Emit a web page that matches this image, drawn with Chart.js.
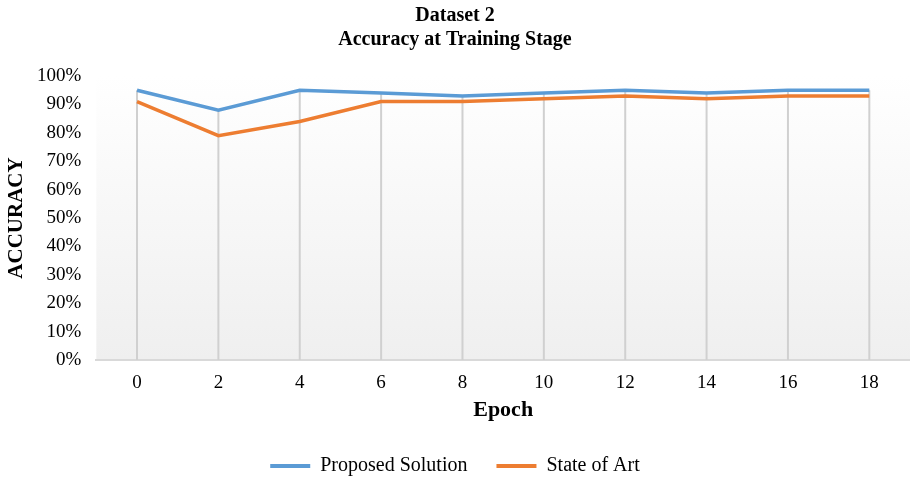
<!DOCTYPE html>
<html>
<head>
<meta charset="utf-8">
<script src="https://cdn.jsdelivr.net/npm/chart.js@4/dist/chart.umd.min.js"></script>
<style>
  body { margin: 0; background: #fff; }
  #wrap { width: 910px; height: 478px; }
</style>
</head>
<body>
<div id="wrap"><canvas id="accChart" width="910" height="478"></canvas></div>
<script>
const epochs = ['0', '2', '4', '6', '8', '10', '12', '14', '16', '18']
const proposed = [0.95, 0.88, 0.95, 0.94, 0.93, 0.94, 0.95, 0.94, 0.95, 0.95]
const stateOfArt = [0.91, 0.79, 0.84, 0.91, 0.91, 0.92, 0.93, 0.92, 0.93, 0.93]

const serif = "'Liberation Serif', 'Times New Roman', serif"

// soft white-to-grey fill behind the plot
const plotBackground = {
  id: 'plotBackground',
  beforeDraw(chart) {
    const { ctx, chartArea: a } = chart
    const g = ctx.createLinearGradient(0, a.top, 0, a.bottom)
    g.addColorStop(0, '#ffffff')
    g.addColorStop(1, '#efefef')
    ctx.save()
    ctx.fillStyle = g
    ctx.fillRect(a.left, a.top, a.right - a.left, a.bottom - a.top)
    ctx.restore()
  },
}

// vertical drop lines from the highest point of each epoch down to the axis
const dropLines = {
  id: 'dropLines',
  beforeDatasetsDraw(chart) {
    const { ctx, scales } = chart
    const x = scales.x
    const y = scales.y
    ctx.save()
    ctx.strokeStyle = '#d0d0d0'
    ctx.lineWidth = 2
    epochs.forEach((e, i) => {
      const top = Math.max(...chart.data.datasets.map((d) => d.data[i]))
      const px = x.getPixelForValue(i)
      ctx.beginPath()
      ctx.moveTo(px, y.getPixelForValue(top))
      ctx.lineTo(px, y.getPixelForValue(0))
      ctx.stroke()
    })
    ctx.restore()
  },
}

new Chart(document.getElementById('accChart'), {
  type: 'line',
  data: {
    labels: epochs,
    datasets: [
      {
        label: 'Proposed Solution',
        data: proposed,
        borderColor: '#5b9bd5',
        backgroundColor: '#5b9bd5',
        borderWidth: 3.5,
        pointRadius: 0,
        tension: 0,
      },
      {
        label: 'State of Art',
        data: stateOfArt,
        borderColor: '#ed7d31',
        backgroundColor: '#ed7d31',
        borderWidth: 3.5,
        pointRadius: 0,
        tension: 0,
      },
    ],
  },
  options: {
    responsive: false,
    animation: false,
    layout: { padding: { left: 0, right: 0, top: 0, bottom: -8 } },
    plugins: {
      title: {
        display: true,
        text: ['Dataset 2', 'Accuracy at Training Stage'],
        color: '#000',
        font: { family: serif, size: 20, weight: 'bold', lineHeight: 1.2 },
        padding: { top: 4, bottom: 24 },
      },
      legend: {
        position: 'bottom',
        labels: {
          color: '#000',
          font: { family: serif, size: 20 },
          boxWidth: 40,
          boxHeight: 4,
          padding: 29,
          generateLabels(chart) {
            return Chart.defaults.plugins.legend.labels
              .generateLabels(chart)
              .map((l) => ({ ...l, lineWidth: 0 }))
          },
        },
      },
      tooltip: { enabled: false },
    },
    scales: {
      x: {
        offset: true,
        grid: { display: false, offset: false, tickLength: 9.6 },
        border: { display: true, color: '#d9d9d9', width: 2 },
        ticks: {
          autoSkip: false,
          maxRotation: 0,
          color: '#000',
          font: { family: serif, size: 19 },
          padding: 2,
        },
        title: {
          display: true,
          text: 'Epoch',
          color: '#000',
          font: { family: serif, size: 22, weight: 'bold' },
          padding: { top: 0.4, bottom: 3.8 },
        },
      },
      y: {
        min: 0,
        max: 1,
        grid: { display: false, tickLength: 11 },
        border: { display: false },
        ticks: {
          stepSize: 0.1,
          autoSkip: false,
          color: '#000',
          font: { family: serif, size: 19 },
          padding: 4,
          callback: (v) => Math.round(v * 100) + '%',
        },
        title: {
          display: true,
          text: 'ACCURACY',
          color: '#000',
          font: { family: serif, size: 21, weight: 'bold' },
          padding: { top: 4.4, bottom: 3.4 },
        },
      },
    },
  },
  plugins: [plotBackground, dropLines],
})
</script>
</body>
</html>
